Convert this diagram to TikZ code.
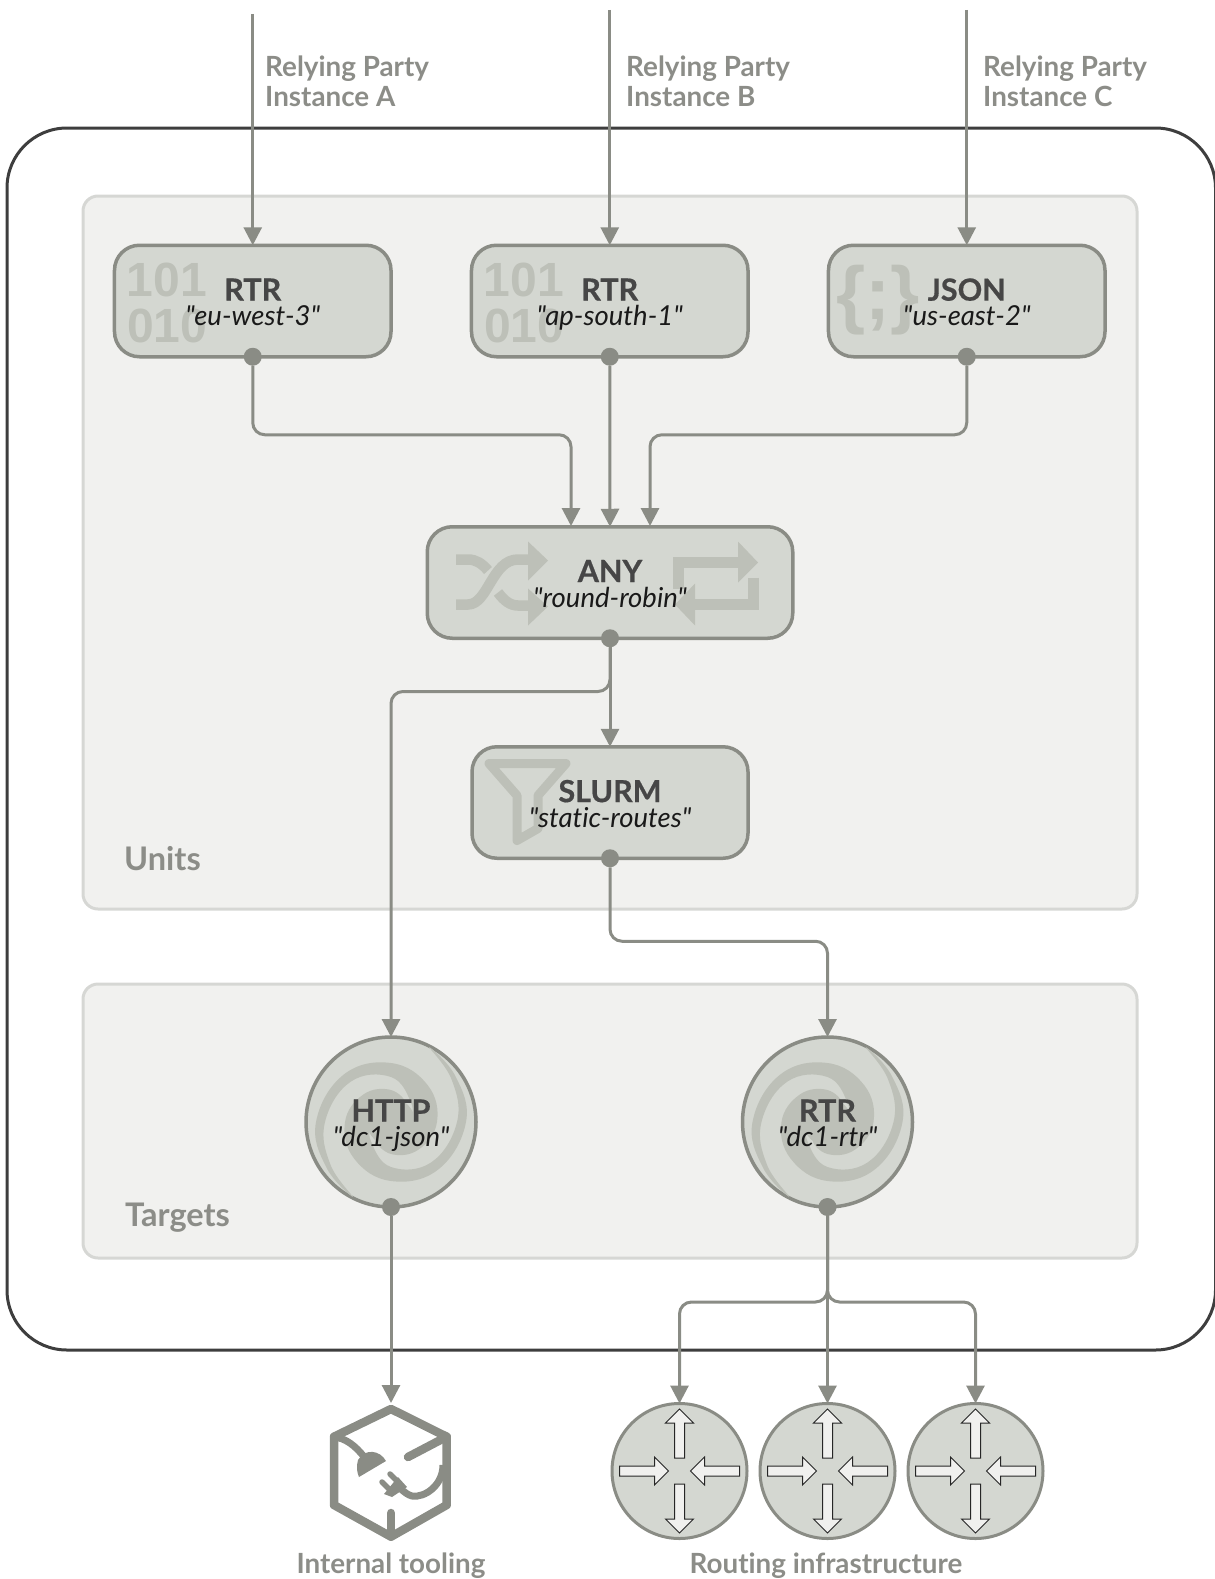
\documentclass[tikz,border=0pt]{standalone}
\usepackage{fontspec}
\setmainfont{Lato}[Ligatures={TeXOff,NoCommon}]
\newfontfamily\iconfont{Liberation Sans}[BoldFont={Liberation Sans Bold}]
\usetikzlibrary{%
  positioning,
  arrows.meta,
}
\definecolor{linegray}{RGB}{138,140,133}
\definecolor{unitfill}{RGB}{212,215,209}
\definecolor{iconink}{RGB}{189,192,184}
\definecolor{panelfill}{RGB}{241,241,239}
\definecolor{panelline}{RGB}{214,215,212}
\definecolor{outerline}{RGB}{62,62,62}
\definecolor{namegray}{RGB}{70,70,70}
\definecolor{captiongray}{RGB}{140,141,136}
\definecolor{arrowwhite}{RGB}{240,240,238}

\newcommand{\unittext}[2]{{\fontsize{30.5}{25}\bfseries\addfontfeature{FakeBold=0.6}\selectfont\color{namegray}#1}\\\smash{\itshape #2}}

\newcommand{\iconbinary}[1]{%
  \begin{scope}[shift={(#1.center)}]
    \node[icontext, anchor=base] (#1digitsA) at (-86,-4.5) {101};
    \node[icontext, anchor=base] (#1digitsB) at (-85.5,41.5) {010};
  \end{scope}}
\newcommand{\iconbraces}[1]{%
  \node[icontext, font=\iconfont\bfseries\fontsize{75}{75}\selectfont, xshift=-88.5pt, yshift=1pt] (#1braces)
    at (#1.center) {\{;\}};}
\newcommand{\iconshuffle}[1]{%
  \begin{scope}[shift={(#1.center)}]
    \draw[iconline] (-154,22) -- (-142,22) .. controls (-122,22) and (-118,-23) .. (-92,-23) -- (-82,-23);
    \draw[iconline] (-154,-23) -- (-142,-23) .. controls (-134,-23) and (-128,-19) .. (-122,-12);
    \draw[iconline] (-112,10) .. controls (-106,18) and (-100,23) .. (-92,23) -- (-82,23);
    \fill[iconink] (-82,-41) -- (-62,-22) -- (-82,-2) -- cycle;
    \fill[iconink] (-82,6) -- (-62,24) -- (-82,43) -- cycle;
    \draw[iconline] (68.5,6) -- (68.5,-20) -- (128,-20);
    \fill[iconink] (128,-41) -- (148,-20) -- (128,0) -- cycle;
    \draw[iconline] (143.5,-5) -- (143.5,22) -- (85,22);
    \fill[iconink] (85,1) -- (65,22) -- (85,43) -- cycle;
  \end{scope}}
\newcommand{\iconfilter}[1]{%
  \draw[iconline, line width=9pt, line join=round, shift={(#1.center)}]
    (-121,-39) -- (-44,-39) -- (-72,-7) -- (-72,26) -- (-93,38) -- (-93,-7) -- cycle;}
\newcommand{\iconswirl}[1]{%
  \fill[iconink] (#1.center) circle (24pt);
  \foreach \ang in {0,180} {
    \fill[iconink, shift={(#1.center)}, rotate=\ang, y=1pt]
      plot[smooth cycle, tension=0.7] coordinates {
        (243:84) (215:79) (180:75) (135:67) (90:59) (45:52) (0:46) (-45:39) (-90:32) (-130:22)
        (-45:20) (0:20) (45:28) (90:45) (135:57) (180:66) (215:74)
      };
  }}

\tikzset{
  unitbox/.style = {
    rectangle, rounded corners = 25pt,
    draw = linegray, line width = 3.5pt,
    fill = unitfill,
    minimum height = 111.5pt,
    inner sep = 0pt, outer sep = 0pt,
  },
  targetbox/.style = {
    circle, draw = linegray, line width = 3.5pt,
    fill = unitfill,
    minimum size = 170pt,
    inner sep = 0pt, outer sep = 0pt,
  },
  unitlabel/.style = {
    align = center, inner sep = 0pt,
    text = black!90, yshift = -1pt,
    font = \fontsize{27.5}{25}\selectfont,
  },
  routerbox/.style = {
    circle, draw = linegray, line width = 3pt,
    fill = unitfill,
    minimum size = 135pt,
    inner sep = 0pt, outer sep = 0pt,
  },
  portdot/.style = {
    circle, fill = linegray,
    minimum size = 18pt,
    inner sep = 0pt, outer sep = 0pt,
  },
  panelbox/.style = {
    draw = panelline, line width = 3pt,
    fill = panelfill,
    rounded corners = 15pt,
  },
  caption/.style = {
    text = captiongray,
    inner sep = 0pt,
    font = \fontsize{27.8}{30}\bfseries\selectfont,
  },
  panelcaption/.style = {
    caption,
    font = \fontsize{32.5}{30}\bfseries\selectfont,
  },
  flowline/.style = {
    color = linegray, line width = 3pt,
    rounded corners = 12pt,
    -{Triangle[width = 18pt, length = 18pt]},
  },
  icontext/.style = {
    text = iconink, inner sep = 0pt,
    font = \iconfont\bfseries\fontsize{48}{48}\selectfont,
  },
  iconline/.style = {
    draw = iconink, line width = 10.5pt,
  },
  toolingline/.style = {
    draw = linegray, line width = 8.5pt,
    line cap = round, line join = round,
  },
  routerarrow/.style = {
    draw = black!85, line width = 1pt,
    fill = arrowwhite, line join = miter,
  },
}

\begin{document}
\begin{tikzpicture}[x = 1pt, y = -1pt]
  \useasboundingbox (0,0) rectangle (1215,1579);

  % frame and panels
  \draw[draw = outerline, line width = 3pt, rounded corners = 60pt] (7,128) rectangle (1215.5,1350);
  \draw[panelbox] (83,196) rectangle (1137,909);
  \draw[panelbox] (83,984) rectangle (1137,1258);
  \node[panelcaption, anchor = base west] (unitscaption) at (124,870) {Units};
  \node[panelcaption, anchor = base west] (targetscaption) at (125,1226) {Targets};

  % units
  \matrix (M) [
    column sep = 77pt,
    nodes = {unitbox, minimum width = 276.5pt},
    inner sep = 0pt,
  ] at (609.75,301) {
    \node (rtrA) {}; & \node (rtrB) {}; & \node (jsonC) {}; \\
  };
  \node[unitbox, minimum width = 365.5pt] (anyunit) at (610,582.5) {};
  \node[unitbox, minimum width = 276pt, below = 108.5pt of anyunit] (slurm) {};

  % targets
  \node[targetbox] (httptarget) at (391,1122) {};
  \node[targetbox] (rtrtarget) at (827.5,1122) {};

  % icons
  \iconbinary{rtrA}
  \iconbinary{rtrB}
  \iconbraces{jsonC}
  \iconshuffle{anyunit}
  \iconfilter{slurm}
  \iconswirl{httptarget}
  \iconswirl{rtrtarget}

  % labels
  \node[unitlabel] (rtrAlabel) at (rtrA) {\unittext{RTR}{"eu-west-3"}};
  \node[unitlabel] (rtrBlabel) at (rtrB) {\unittext{RTR}{"ap-south-1"}};
  \node[unitlabel] (jsonClabel) at (jsonC) {\unittext{JSON}{"us-east-2"}};
  \node[unitlabel] (anylabel) at (anyunit) {\unittext{ANY}{"round-robin"}};
  \node[unitlabel] (slurmlabel) at (slurm) {\unittext{SLURM}{"static-routes"}};
  \node[unitlabel] (httplabel) at (httptarget) {\unittext{HTTP}{"dc1-json"}};
  \node[unitlabel] (rtrlabel) at (rtrtarget) {\unittext{RTR}{"dc1-rtr"}};

  % routers
  \matrix (R) [
    column sep = 10pt,
    nodes = {routerbox},
    inner sep = 0pt,
  ] at (827.5,1471) {
    \node (routerA) {}; & \node (routerB) {}; & \node (routerC) {}; \\
  };
  \foreach \router in {routerA, routerB, routerC} {
    \foreach \ang in {0, 180} {
      \draw[routerarrow, shift = {(\router.center)}, rotate = \ang]
        (-5,-13) -- (-5,-48) -- (-14,-48) -- (0,-62) -- (14,-48) -- (5,-48) -- (5,-13) -- cycle;
      \draw[routerarrow, shift = {(\router.center)}, rotate = \ang]
        (-60,-5) -- (-25,-5) -- (-25,-14) -- (-11,0) -- (-25,14) -- (-25,5) -- (-60,5) -- cycle;
    }
  }

  % tooling box
  \coordinate (toolingtop) at (391,1403);
  \draw[toolingline] (391,1409) -- (446.7,1436.7) -- (446.7,1505) -- (391,1536.7)
    -- (334,1505) -- (334,1436.7) -- cycle;
  \draw[toolingline] (446.7,1436.7) -- (408,1457);
  \draw[toolingline] (391,1536.7) -- (391,1513);
  \draw[toolingline, line width = 7pt, line cap = butt] (334,1437) .. controls (345,1438) and (355,1445) .. (365,1458);
  \fill[linegray] (386,1461) .. controls (380,1450) and (365,1448) .. (358,1460)
    .. controls (356,1467) and (357,1472) .. (359,1477) -- cycle;
  \draw[toolingline, line width = 7pt, line cap = butt] (443,1465) .. controls (443,1485) and (425,1498) .. (412,1496)
    .. controls (408,1495) and (404,1492) .. (400,1488);
  \fill[linegray] (384,1494) -- (392,1497) -- (407,1487) -- (398,1477) -- cycle;
  \draw[linegray, line width = 5.5pt, line cap = round] (382,1482) -- (390,1490);
  \draw[linegray, line width = 5.5pt, line cap = round] (390,1474) -- (398,1482);

  % ports
  \node[portdot] (rtrAport) at (rtrA.south) {};
  \node[portdot] (rtrBport) at (rtrB.south) {};
  \node[portdot] (jsonCport) at (jsonC.south) {};
  \node[portdot] (anyport) at (anyunit.south) {};
  \node[portdot] (slurmport) at (slurm.south) {};
  \node[portdot] (httpport) at (httptarget.south) {};
  \node[portdot] (rtrport) at (rtrtarget.south) {};

  % free ends and bends
  \coordinate (partyA) at (rtrA.north |- 0,14);
  \coordinate (partyB) at (rtrB.north |- 0,10);
  \coordinate (partyC) at (jsonC.north |- 0,10);
  \coordinate (anyinA) at (571,526);
  \coordinate (anyinC) at (650,526);
  \coordinate (anybend) at (610,691.5);
  \coordinate (routerbend) at (827.5,1302);

  \begin{scope}[flowline]
    \draw (partyA) -- (rtrA.north);
    \draw (partyB) -- (rtrB.north);
    \draw (partyC) -- (jsonC.north);
    \draw (rtrAport) -- ++(0,78) -| (anyinA);
    \draw (rtrBport) -- (anyunit.north);
    \draw (jsonCport) -- ++(0,78) -| (anyinC);
    \draw (anyport) -- (slurm.north);
    \draw (anyport) -- (anybend) -| (httptarget.north);
    \draw (slurmport) -- ++(0,83) -| (rtrtarget.north);
    \draw (httpport) -- (toolingtop);
    \draw (rtrport) -- (routerB.north);
    \draw (rtrport) -- (routerbend) -| (routerA.north);
    \draw (rtrport) -- (routerbend) -| (routerC.north);
  \end{scope}

  % captions
  \node[caption, anchor = north west, align = left] (partyAcaption) at (265,56) {Relying Party\\Instance A};
  \node[caption, anchor = north west, align = left] (partyBcaption) at (626,56) {Relying Party\\Instance B};
  \node[caption, anchor = north west, align = left] (partyCcaption) at (983,56) {Relying Party\\Instance C};
  \node[caption, anchor = base] (toolingcaption) at (391,1573) {Internal tooling};
  \node[caption, anchor = base] (routingcaption) at (826,1573) {Routing infrastructure};
\end{tikzpicture}
\end{document}
